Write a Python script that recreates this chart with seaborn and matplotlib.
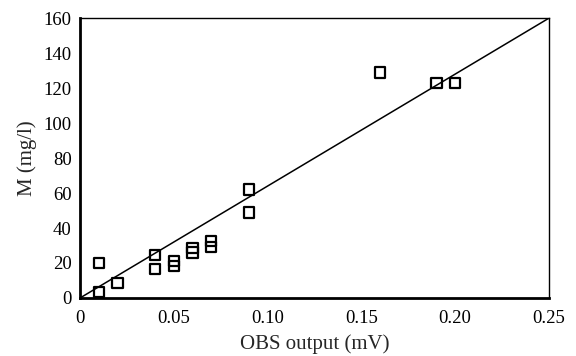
import matplotlib
matplotlib.use("Agg")
import matplotlib.pyplot as plt
import seaborn as sns
import numpy as np
import pandas as pd

obs_x = [0.01, 0.01, 0.02, 0.04, 0.04, 0.05, 0.05, 0.06, 0.06, 0.07, 0.07, 0.09, 0.09, 0.16, 0.19, 0.20]
conc_y = [20, 3.5, 8.4, 24.4, 16.4, 21, 18.3, 28.5, 26, 32.5, 29.3, 62, 48.8, 129, 123, 123]
fit_x = [0.0, 0.25]
fit_y = [0.0, 160.0]
xticks = [0, 0.05, 0.10, 0.15, 0.20, 0.25]
xticklabels = ["0", "0.05", "0.10", "0.15", "0.20", "0.25"]
yticks = [0, 20, 40, 60, 80, 100, 120, 140, 160]

sns.set_style("white")
plt.rcParams['font.family'] = ['Liberation Serif', 'DejaVu Serif']

fig = plt.figure(figsize=(5.76, 3.56), dpi=100)
ax = fig.add_axes([0.139, 0.163, 0.814, 0.786])

df = pd.DataFrame({"x": obs_x, "y": conc_y})
sns.scatterplot(data=df, x="x", y="y", ax=ax, marker="s", s=55,
                facecolor="none", edgecolor="black", linewidth=1.6, zorder=3)
sns.lineplot(x=fit_x, y=fit_y, ax=ax, color="black", linewidth=1.1, zorder=2)

ax.set_xlim(0, 0.25)
ax.set_ylim(0, 160)
ax.set_xticks(xticks)
ax.set_xticklabels(xticklabels)
ax.set_yticks(yticks)
ax.tick_params(direction="in", length=5, width=1.6, labelsize=13.5, colors="black")
ax.tick_params(axis="x", pad=9)
ax.tick_params(axis="y", pad=6)
ax.set_xlabel("OBS output (mV)", fontsize=15, labelpad=5)
ax.set_ylabel("M (mg/l)", fontsize=15, labelpad=5)
for s in ["left", "bottom"]:
    ax.spines[s].set_linewidth(2.0)
    ax.spines[s].set_color("black")
for s in ["top", "right"]:
    ax.spines[s].set_linewidth(1.0)
    ax.spines[s].set_color("black")

fig.savefig("out.png", dpi=100)
